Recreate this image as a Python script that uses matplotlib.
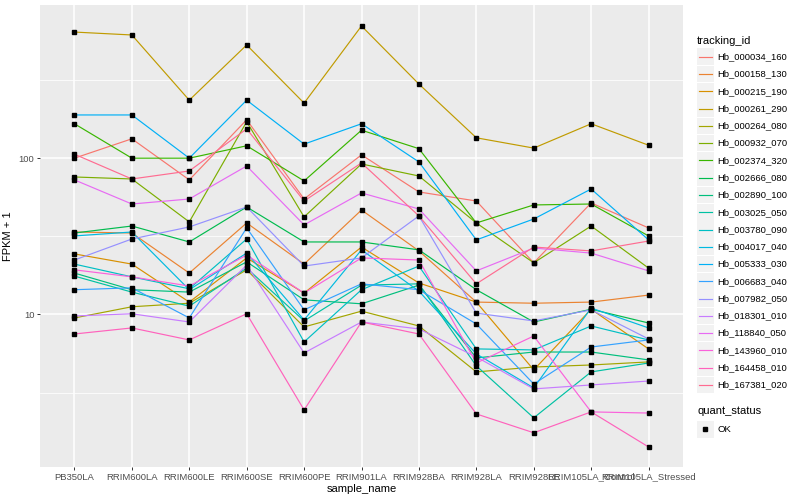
import matplotlib
matplotlib.use("Agg")
import matplotlib.pyplot as plt
from matplotlib.patches import Rectangle
from matplotlib.lines import Line2D
from matplotlib.ticker import NullFormatter, FixedLocator

plt.rcParams['font.family'] = ['Liberation Sans', 'DejaVu Sans']

samples = ["PB350LA", "RRIM600LA", "RRIM600LE", "RRIM600SE", "RRIM600PE",
           "RRIM901LA", "RRIM928BA", "RRIM928LA", "RRIM928LE",
           "RRIM105LA_Control", "RRIM105LA_Stressed"]

tracking_ids = ["Hb_000034_160", "Hb_000158_130", "Hb_000215_190", "Hb_000261_290",
                "Hb_000264_080", "Hb_000932_070", "Hb_002374_320", "Hb_002666_080",
                "Hb_002890_100", "Hb_003025_050", "Hb_003780_090", "Hb_004017_040",
                "Hb_005333_030", "Hb_006683_040", "Hb_007982_050", "Hb_018301_010",
                "Hb_118840_050", "Hb_143960_010", "Hb_164458_010", "Hb_167381_020"]

# FPKM + 1 per sample
hb_000034_160 = [100, 133, 72.6, 176, 54.8, 105, 60.8, 53.2, 21.4, 51.7, 35.8]
hb_000158_130 = [33.7, 33.2, 18.4, 38.5, 21.0, 46.6, 25.5, 12.0, 11.8, 12.0, 13.3]
hb_000215_190 = [24.4, 21.0, 12.0, 23.0, 13.7, 27.0, 15.9, 12.0, 4.42, 10.8, 6.02]
hb_000261_290 = [641, 614, 235, 530, 225, 701, 298, 135, 116, 166, 121]
hb_000264_080 = [9.50, 11.2, 11.8, 19.3, 8.32, 10.5, 8.44, 4.29, 4.61, 4.75, 4.97]
hb_000932_070 = [75.8, 73.6, 39.1, 171, 42.1, 91.8, 76.9, 38.5, 21.4, 36.8, 19.8]
hb_002374_320 = [166, 100, 100, 120, 71.5, 151, 115, 38.5, 50.2, 50.9, 31.8]
hb_002666_080 = [33.2, 36.8, 29.1, 48.7, 29.1, 29.1, 25.9, 14.4, 8.95, 10.8, 8.82]
hb_002890_100 = [18.4, 14.4, 13.9, 21.7, 12.4, 11.7, 15.4, 5.27, 5.75, 5.75, 5.12]
hb_003025_050 = [17.6, 13.9, 11.3, 19.8, 9.09, 15.4, 15.7, 4.69, 2.18, 4.29, 4.89]
hb_003780_090 = [21.0, 17.4, 14.6, 30.4, 6.67, 14.4, 20.4, 6.02, 5.93, 8.44, 6.87]
hb_004017_040 = [31.8, 33.7, 14.4, 24.7, 9.22, 25.9, 14.1, 5.59, 3.39, 11.0, 8.20]
hb_005333_030 = [189, 189, 100, 235, 123, 166, 94.6, 30.0, 40.8, 63.5, 30.0]
hb_006683_040 = [14.4, 14.8, 9.50, 35.8, 10.7, 15.7, 14.4, 8.69, 3.59, 6.19, 6.87]
hb_007982_050 = [22.3, 30.4, 36.3, 48.7, 20.4, 23.0, 42.7, 10.2, 9.09, 10.7, 6.97]
hb_018301_010 = [9.78, 10.1, 8.95, 20.7, 5.67, 8.95, 8.08, 5.35, 3.34, 3.54, 3.75]
hb_118840_050 = [72.6, 50.9, 54.8, 89.1, 37.4, 59.9, 47.3, 19.0, 26.6, 24.7, 19.0]
hb_143960_010 = [19.3, 17.4, 15.2, 24.0, 13.7, 23.0, 22.3, 4.89, 7.28, 2.38, 2.34]
hb_164458_010 = [7.50, 8.20, 6.87, 10.1, 2.45, 8.95, 7.50, 2.31, 1.75, 2.38, 1.42]
hb_167381_020 = [106, 73.6, 82.8, 154, 53.2, 93.2, 42.7, 15.7, 27.0, 25.5, 29.5]

series = [hb_000034_160, hb_000158_130, hb_000215_190, hb_000261_290, hb_000264_080,
          hb_000932_070, hb_002374_320, hb_002666_080, hb_002890_100, hb_003025_050,
          hb_003780_090, hb_004017_040, hb_005333_030, hb_006683_040, hb_007982_050,
          hb_018301_010, hb_118840_050, hb_143960_010, hb_164458_010, hb_167381_020]

colors = ["#F8766D", "#EA8331", "#D89000", "#C09B00", "#A3A500", "#7CAE00", "#39B600",
          "#00BB4E", "#00BF7D", "#00C1A3", "#00BFC4", "#00BAE0", "#00B0F6", "#35A2FF",
          "#9590FF", "#C77CFF", "#E76BF3", "#FA62DB", "#FF62BC", "#FF6C91"]

W, H = 800, 500
fig = plt.figure(figsize=(W / 100, H / 100), dpi=100)
px_l, px_r, px_t, px_b = 40, 683, 5, 467
ax = fig.add_axes([px_l / W, 1 - px_b / H, (px_r - px_l) / W, (px_b - px_t) / H])
ax.set_facecolor("#EBEBEB")
for s in ax.spines.values():
    s.set_visible(False)

x = list(range(1, len(samples) + 1))
for vals, c in zip(series, colors):
    ax.plot(x, vals, color=c, lw=0.85, zorder=3, solid_capstyle='butt')
for vals in series:
    ax.plot(x, vals, ls='none', marker='s', ms=2.3, color='black', zorder=4)

ax.set_yscale('log')
ax.set_ylim(10 ** 0.024, 10 ** 2.980)
ax.set_xlim(0.4, len(samples) + 0.6)
ax.yaxis.set_major_locator(FixedLocator([10, 100]))
ax.yaxis.set_minor_locator(FixedLocator([10 ** 0.5, 10 ** 1.5, 10 ** 2.5]))
ax.yaxis.set_minor_formatter(NullFormatter())
ax.set_yticklabels(["10", "100"])
ax.set_xticks(x)
ax.set_xticklabels(samples)
ax.grid(which='major', color='white', lw=1.1, zorder=0)
ax.grid(which='minor', axis='y', color='white', lw=0.55, zorder=0)
ax.set_axisbelow(True)
ax.tick_params(which='major', length=2.2, width=0.7, color='#333333',
               labelcolor='#4D4D4D', labelsize=6.8, pad=1.8)
ax.tick_params(which='minor', length=0)

ax.set_xlabel("sample_name", fontsize=8, color='black', labelpad=2)
ax.set_ylabel("FPKM + 1", fontsize=8, color='black', labelpad=4)

def fx(px):
    return px / W

def fy(py):
    return 1 - py / H

fig.text(fx(697), fy(40.5), "tracking_id", fontsize=8, va='center', ha='left')
row0, step = 56.8, 17.27
for i, (name, c) in enumerate(zip(tracking_ids, colors)):
    yc = row0 + i * step
    fig.patches.append(Rectangle((fx(697), fy(yc + 8.3)), 16.5 / W, 16.6 / H,
                                 transform=fig.transFigure, facecolor='#F2F2F2',
                                 edgecolor='none'))
    fig.lines.append(Line2D([fx(698.5), fx(711.5)], [fy(yc), fy(yc)],
                            transform=fig.transFigure, color=c, lw=0.85))
    fig.text(fx(717), fy(yc), name, fontsize=6.8, va='center', ha='left')

fig.text(fx(697), fy(411.5), "quant_status", fontsize=8, va='center', ha='left')
fig.patches.append(Rectangle((fx(697), fy(429.3 + 8.3)), 16.5 / W, 16.6 / H,
                             transform=fig.transFigure, facecolor='#F2F2F2',
                             edgecolor='none'))
fig.lines.append(Line2D([fx(705)], [fy(429.3)], transform=fig.transFigure,
                        ls='none', marker='s', ms=2.3, color='black'))
fig.text(fx(717), fy(429.3), "OK", fontsize=6.8, va='center', ha='left')

fig.savefig("out.png", dpi=100)
